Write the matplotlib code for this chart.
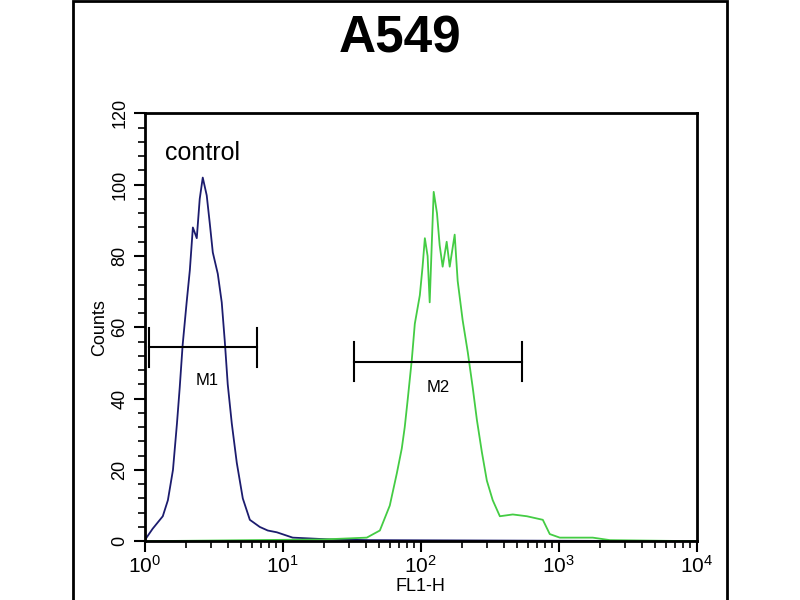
import matplotlib.pyplot as plt
import numpy as np
from matplotlib.patches import Rectangle
from matplotlib.ticker import MultipleLocator

plt.rcParams['font.family'] = ['Liberation Sans', 'DejaVu Sans']

# control histogram (FL1-H, counts)
ctrl_x = [1.0, 1.14, 1.35, 1.47, 1.60, 1.71, 1.79, 1.88, 2.01, 2.12, 2.23, 2.38,
          2.50, 2.63, 2.81, 2.96, 3.11, 3.38, 3.61, 3.80, 3.99, 4.27, 4.64, 5.13,
          5.77, 6.81, 7.78, 9.05, 11.8, 21.9, 42.7, 10000]
ctrl_y = [0.3, 3.5, 7, 11.5, 20, 33, 43, 55, 67, 76, 88, 85,
          96, 102, 97, 89, 81, 75, 67, 56, 44, 33, 22, 12,
          6, 4, 3, 2.5, 1, 0.5, 0.3, 0]

# A549 sample histogram
smp_x = [1.0, 20, 40.6, 50.5, 59.6, 67.0, 72.8, 76.5, 80.5, 86.1, 90.5, 98.4,
         103, 107, 112, 116, 120, 124, 131, 137, 144, 154, 162, 176,
         185, 201, 219, 238, 255, 277, 301, 332, 374, 464, 587, 766,
         860, 1017, 1763, 2344, 10000]
smp_y = [0, 0.5, 1, 3, 10, 19, 26, 32, 40, 51, 61, 69,
         77, 85, 80, 67, 83, 98, 92, 83, 77, 84, 77, 86,
         73, 62, 53, 43, 34, 25, 17, 11.5, 7, 7.5, 7, 6,
         2, 1, 1, 0.3, 0]

# markers: (name, start, end, bar height, label x, label y)
markers = [("M1", 1.07, 6.48, 54.4, 2.81, 45),
           ("M2", 32.7, 540, 50.4, 133, 43)]

fig = plt.figure(figsize=(8, 6), dpi=100)
fig.patches.append(Rectangle((0.091, -0.02), 0.818, 1.018, transform=fig.transFigure,
                             fill=False, edgecolor='black', linewidth=2))

ax = fig.add_axes([0.181, 0.098, 0.690, 0.713])
ax.plot(ctrl_x, ctrl_y, color='#1c1c6e', linewidth=1.3)
ax.plot(smp_x, smp_y, color='#44cc44', linewidth=1.3)

for name, x0, x1, yb, lx, ly in markers:
    ax.plot([x0, x1], [yb, yb], color='black', linewidth=1.5)
    ax.plot([x0, x0], [yb - 5.5, yb + 5.5], color='black', linewidth=1.5)
    ax.plot([x1, x1], [yb - 5.5, yb + 5.5], color='black', linewidth=1.5)
    ax.text(lx, ly, name, ha='center', va='center', fontsize=12)

ax.text(1.40, 109, 'control', ha='left', va='center', fontsize=18)

ax.set_xscale('log')
ax.set_xlim(1, 10000)
ax.set_ylim(0, 120)
ax.yaxis.set_major_locator(MultipleLocator(20))
ax.yaxis.set_minor_locator(MultipleLocator(4))
ax.tick_params(axis='both', which='major', direction='out', length=8, width=1.5)
ax.tick_params(axis='both', which='minor', direction='out', length=5, width=1.2)
ax.tick_params(axis='y', labelsize=13, labelrotation=90, pad=4)
ax.tick_params(axis='x', labelsize=15, pad=2)
for lab in ax.get_yticklabels():
    lab.set_va('center')
for s in ax.spines.values():
    s.set_linewidth(2)

ax.set_xlabel('FL1-H', fontsize=13, labelpad=1)
ax.set_ylabel('Counts', fontsize=13, labelpad=2)
fig.text(0.5, 0.935, 'A549', ha='center', va='center', fontsize=37, fontweight='bold')

plt.savefig('out.png', dpi=100)
